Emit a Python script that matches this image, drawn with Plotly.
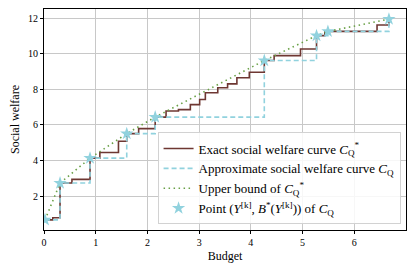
import plotly.graph_objects as go

# Exact social welfare curve (step, drawn post-style)
exact_x = [0.02, 0.17, 0.31, 0.54, 0.89, 1.08, 1.44, 1.60, 1.83, 2.15, 2.36, 2.60, 2.83,
           3.01, 3.12, 3.36, 3.55, 3.73, 3.97, 4.26, 4.45, 4.96, 5.27, 5.43, 6.44, 6.67]
exact_y = [0.66, 0.78, 2.73, 2.94, 4.13, 4.45, 5.08, 5.51, 5.79, 6.44, 6.78, 6.86, 7.14,
           7.43, 7.81, 8.09, 8.31, 8.65, 8.96, 9.62, 9.90, 10.27, 11.02, 11.26, 11.62, 11.95]

# Points (Y^[k], B*(Y^[k])) of the approximate curve
point_x = [0.02, 0.31, 0.89, 1.60, 2.15, 4.26, 5.27, 5.49, 6.67]
point_y = [0.66, 2.73, 4.13, 5.51, 6.44, 9.62, 11.02, 11.26, 11.95]

x_ticks = [0, 1, 2, 3, 4, 5, 6]
y_ticks = [2, 4, 6, 8, 10, 12]

BROWN = "rgb(110,55,50)"
LBLUE = "rgb(145,210,222)"
GREEN = "rgb(105,160,70)"
FONT = "Liberation Serif"

fig = go.Figure()
fig.add_trace(go.Scatter(x=exact_x, y=exact_y, mode="lines", line_shape="hv",
                         line=dict(color=BROWN, width=1.6),
                         name="Exact social welfare curve <i>C</i><sub>Q</sub><sup>*</sup>"))
fig.add_trace(go.Scatter(x=point_x, y=point_y, mode="lines", line_shape="hv",
                         line=dict(color=LBLUE, width=1.6, dash="5px,3px"),
                         name="Approximate social welfare curve <i>C</i><sub>Q</sub>"))
fig.add_trace(go.Scatter(x=point_x, y=point_y, mode="lines",
                         line=dict(color=GREEN, width=1.6, dash="1.5px,3.5px"),
                         name="Upper bound of <i>C</i><sub>Q</sub><sup>*</sup>"))
fig.add_trace(go.Scatter(x=point_x, y=point_y, mode="markers",
                         marker=dict(symbol="star", size=10, color=LBLUE, line=dict(width=0)),
                         name="Point (<i>Y</i><sup>[k]</sup>, <i>B</i><sup>*</sup>(<i>Y</i><sup>[k]</sup>)) of <i>C</i><sub>Q</sub>"))

axis_common = dict(showline=True, linecolor="black", linewidth=1, mirror=True,
                   showgrid=True, gridcolor="rgb(200,200,200)", gridwidth=1,
                   ticks="outside", ticklen=3, tickcolor="black", zeroline=False,
                   automargin=False,
                   tickfont=dict(family=FONT, size=10, color="black"))

fig.update_xaxes(range=[0, 7.0], tickvals=x_ticks,
                 title=dict(text="Budget", font=dict(family=FONT, size=12, color="black"), standoff=4),
                 **axis_common)
fig.update_yaxes(range=[0.09, 12.52], tickvals=y_ticks,
                 title=dict(text="Social welfare", font=dict(family=FONT, size=12, color="black"), standoff=6),
                 **axis_common)

# the page body adds an 8px offset; size the figure so the plot area lands where the reference has it
fig.update_layout(
    width=407, height=266,
    margin=dict(l=36, r=9, t=1, b=44),
    paper_bgcolor="white", plot_bgcolor="white",
    font=dict(family=FONT, size=12, color="black"),
    legend=dict(x=0.985, y=0.025, xanchor="right", yanchor="bottom",
                bgcolor="rgba(255,255,255,0.85)", bordercolor="rgb(210,210,210)", borderwidth=1,
                font=dict(family=FONT, size=13, color="black"),
                itemwidth=30, tracegroupgap=0),
    showlegend=True,
)

fig.write_html("out.html")
